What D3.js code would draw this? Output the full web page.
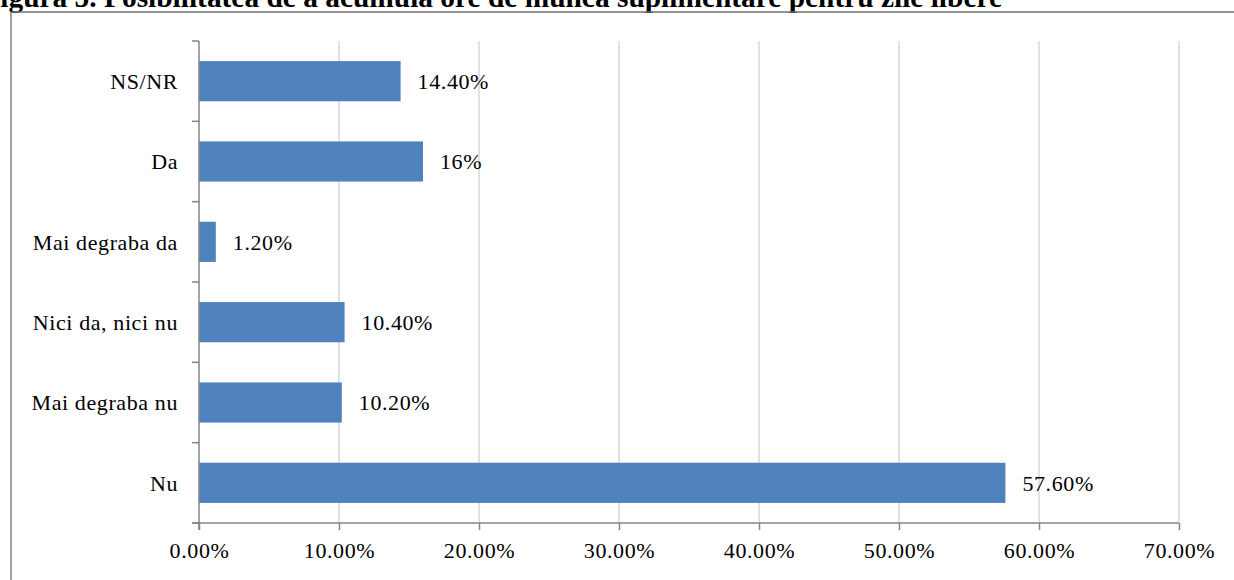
<!DOCTYPE html>
<html>
<head>
<meta charset="utf-8">
<script src="https://cdn.jsdelivr.net/npm/d3@7"></script>
<style>
  html, body { margin: 0; padding: 0; background: #fff; overflow: hidden; }
  svg { display: block; }
  text { font-family: "Liberation Serif", "Times New Roman", serif; fill: #000; }
</style>
</head>
<body>
<svg id="chart" width="1234" height="580"></svg>
<script>
// Survey answers, top to bottom as drawn
const categories = ["NS/NR", "Da", "Mai degraba da", "Nici da, nici nu", "Mai degraba nu", "Nu"];
const values = [14.4, 16, 1.2, 10.4, 10.2, 57.6];
const valueLabels = ["14.40%", "16%", "1.20%", "10.40%", "10.20%", "57.60%"];
const xTicks = [0, 10, 20, 30, 40, 50, 60, 70];
const xTickLabels = ["0.00%", "10.00%", "20.00%", "30.00%", "40.00%", "50.00%", "60.00%", "70.00%"];
const title = "Figura 5. Posibilitatea de a acumula ore de muncă suplimentare pentru zile libere";

const svg = d3.select("#chart");
const W = 1234, H = 580;
const plot = { left: 199, right: 1179, top: 41, bottom: 523 };

const x = d3.scaleLinear().domain([0, 70]).range([plot.left, plot.right]);
const y = d3.scaleBand().domain(categories).range([plot.top, plot.bottom]).paddingInner(0.5).paddingOuter(0.25);

// Caption above the frame
svg.append("text")
  .attr("x", 1002).attr("y", 7)
  .attr("text-anchor", "end")
  .style("font-weight", "bold")
  .style("font-size", "29.4px")
  .text(title);

// Frame: top and left edges
svg.append("line").attr("x1", 11).attr("x2", W).attr("y1", 12).attr("y2", 12)
  .attr("stroke", "#707070").attr("stroke-width", 1.5);
svg.append("line").attr("x1", 11).attr("x2", 11).attr("y1", 12).attr("y2", H)
  .attr("stroke", "#808080").attr("stroke-width", 1.5);

// Vertical gridlines
svg.append("g").selectAll("line").data(xTicks.slice(1)).join("line")
  .attr("x1", d => x(d)).attr("x2", d => x(d))
  .attr("y1", plot.top).attr("y2", plot.bottom)
  .attr("stroke", "#d9d9d9").attr("stroke-width", 1.5);

// Bars
svg.append("g").selectAll("rect").data(values).join("rect")
  .attr("x", x(0))
  .attr("y", (d, i) => y(categories[i]))
  .attr("width", d => x(d) - x(0))
  .attr("height", y.bandwidth())
  .attr("fill", "#4f81bd");

// Value labels
svg.append("g").selectAll("text").data(values).join("text")
  .attr("x", d => x(d) + 17)
  .attr("y", (d, i) => y(categories[i]) + y.bandwidth() / 2)
  .attr("dy", "0.35em")
  .style("font-size", "22px").style("letter-spacing", "0.6px")
  .text((d, i) => valueLabels[i]);

// X axis
const xAxis = d3.axisBottom(x)
  .tickValues(xTicks)
  .tickFormat((d, i) => xTickLabels[i])
  .tickSize(7).tickSizeOuter(0).tickPadding(12);
const gx = svg.append("g").attr("transform", `translate(0,${plot.bottom})`).call(xAxis);
gx.select(".domain").remove();
gx.append("line").attr("x1", plot.left - 7).attr("x2", plot.right).attr("y1", 0).attr("y2", 0)
  .attr("stroke", "#868686").attr("stroke-width", 1.5);
gx.selectAll(".tick line").attr("stroke", "#868686").attr("stroke-width", 1.5);
gx.selectAll(".tick text")
  .style("font-family", "'Liberation Serif', 'Times New Roman', serif")
  .style("font-size", "22px").style("letter-spacing", "0.6px").attr("fill", "#000");

// Y axis: ticks sit on band boundaries, labels centred in bands
const bounds = d3.range(categories.length + 1).map(i => plot.top + i * (plot.bottom - plot.top) / categories.length);
const gy = svg.append("g");
gy.append("line").attr("x1", plot.left).attr("x2", plot.left).attr("y1", plot.top).attr("y2", plot.bottom + 7)
  .attr("stroke", "#868686").attr("stroke-width", 1.5);
gy.selectAll("line.tk").data(bounds).join("line").attr("class", "tk")
  .attr("x1", plot.left - 7).attr("x2", plot.left).attr("y1", d => d).attr("y2", d => d)
  .attr("stroke", "#868686").attr("stroke-width", 1.5);
gy.selectAll("text").data(categories).join("text")
  .attr("x", plot.left - 21)
  .attr("y", d => y(d) + y.bandwidth() / 2)
  .attr("dy", "0.35em")
  .attr("text-anchor", "end")
  .style("font-size", "22px").style("letter-spacing", "0.6px")
  .text(d => d);
</script>
</body>
</html>
